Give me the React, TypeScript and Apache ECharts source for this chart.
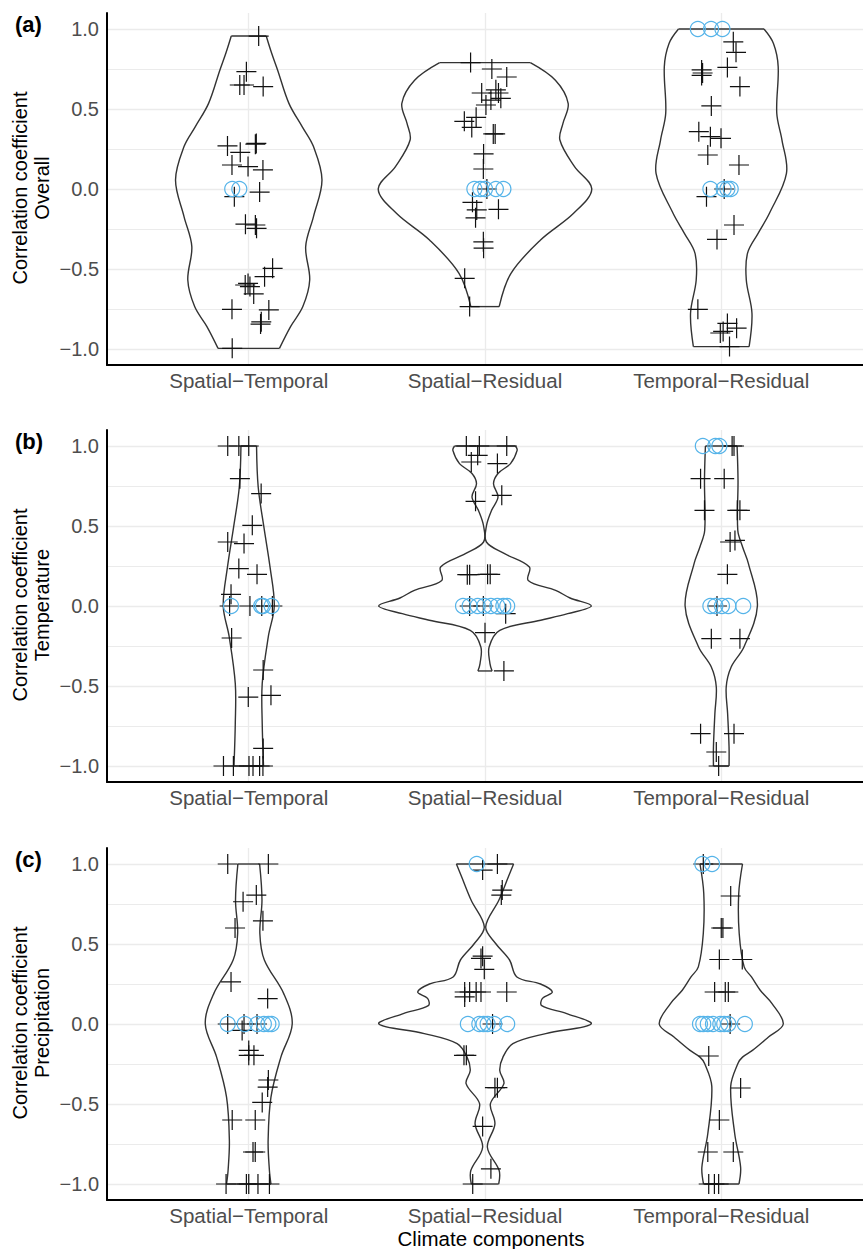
import React, { useEffect, useRef } from "react";
import * as echarts from "echarts";

// ---------- data ----------
const categories = ["Spatial\u2212Temporal", "Spatial\u2212Residual", "Temporal\u2212Residual"];
const yTicks = [-1, -0.5, 0, 0.5, 1];
const gridMajor = [-1, -0.5, 0, 0.5, 1];
const gridMinor = [-0.75, -0.25, 0.25, 0.75];
const panelTags = ["(a)", "(b)", "(c)"];
const panelNames = ["Overall", "Temperature", "Precipitation"];
const yTitle = "Correlation coefficient";
const xTitle = "Climate components";

// violin outlines: [correlation value, half width in category units]
const violinA_ST = [[0.956,0.074],[0.848,0.097],[0.744,0.122],[0.535,0.170],[0.39,0.226],[0.265,0.274],[0.056,0.310],[-0.173,0.274],[-0.36,0.241],[-0.569,0.258],[-0.735,0.229],[-0.86,0.177],[-0.996,0.130]];
const violinA_SR = [[0.79,0.192],[0.68,0.298],[0.535,0.352],[0.41,0.33],[0.306,0.317],[0.14,0.379],[0,0.452],[-0.152,0.375],[-0.319,0.235],[-0.527,0.110],[-0.735,0.060]];
const violinA_TR = [[1.0,0.181],[0.91,0.221],[0.765,0.241],[0.473,0.235],[0.306,0.257],[0.098,0.276],[-0.152,0.204],[-0.277,0.156],[-0.402,0.111],[-0.569,0.106],[-0.777,0.130],[-0.985,0.118]];
const violinB_ST = [[1.0,0.033],[0.744,0.040],[0.494,0.064],[0.244,0.090],[0,0.108],[-0.19,0.083],[-0.485,0.057],[-0.735,0.057],[-1.0,0.0625]];
const violinB_SR = [[1.0,0.129],[0.973,0.136],[0.89,0.108],[0.83,0.056],[0.765,0.036],[0.681,0.055],[0.598,0.028],[0.5,0.006],[0.4,0.006],[0.327,0.083],[0.244,0.188],[0.16,0.183],[0.098,0.299],[0.05,0.36],[0,0.450],[-0.048,0.35],[-0.089,0.236],[-0.152,0.0625],[-0.256,0.0175],[-0.36,0.021],[-0.406,0.030]];
const violinB_TR = [[1.0,0.067],[0.785,0.071],[0.473,0.070],[0.37,0.09],[0.265,0.115],[0,0.153],[-0.256,0.096],[-0.381,0.042],[-0.506,0.021],[-0.673,0.027],[-0.88,0.033],[-1.0,0.033]];
const violinC_ST = [[1.0,0.046],[0.775,0.056],[0.566,0.047],[0.4,0.066],[0.19,0.148],[0,0.184],[-0.207,0.136],[-0.457,0.094],[-0.728,0.082],[-0.916,0.0875],[-1.0,0.094]];
const violinC_SR = [[1.0,0.121],[0.92,0.099],[0.775,0.059],[0.607,0.003],[0.503,0.045],[0.4,0.104],[0.294,0.135],[0.25,0.235],[0.2,0.285],[0.16,0.243],[0.115,0.24],[0.065,0.346],[0,0.449],[-0.06,0.257],[-0.123,0.118],[-0.207,0.076],[-0.29,0.0625],[-0.373,0.080],[-0.498,0.023],[-0.624,0.042],[-0.77,0.010],[-0.916,0.060],[-1.0,0.058]];
const violinC_TR = [[1.0,0.090],[0.816,0.074],[0.566,0.076],[0.357,0.097],[0.294,0.128],[0.211,0.165],[0.128,0.215],[0,0.2625],[-0.081,0.2],[-0.165,0.132],[-0.207,0.090],[-0.248,0.07],[-0.39,0.04],[-0.686,0.057],[-0.895,0.082],[-1.0,0.075]];

// jittered points: [jitter offset in category units, correlation value]
const plusA_ST = [[0.042,0.956],[-0.010,0.733],[-0.038,0.65],[-0.020,0.65],[0.061,0.64],[-0.090,0.269],[-0.036,0.229],[0.028,0.28],[0.032,0.285],[-0.071,0.15],[-0.003,0.14],[0.060,0.119],[-0.061,-0.048],[0.046,-0.019],[-0.014,-0.22],[0.028,-0.225],[0.033,-0.246],[0.101,-0.496],[0.067,-0.548],[-0.003,-0.59],[0.005,-0.61],[-0.015,-0.6],[0.021,-0.656],[-0.071,-0.752],[0.085,-0.756],[0.050,-0.844],[0.053,-0.83],[-0.070,-0.996]];
const circA_ST = [[-0.070,0],[-0.040,0]];
const plusA_SR = [[-0.061,0.79],[0.029,0.75],[0.092,0.70],[-0.014,0.60],[0.057,0.60],[0.067,0.567],[0.025,0.556],[0.004,0.525],[0.046,0.62],[-0.0875,0.423],[-0.056,0.385],[-0.0375,0.448],[0.035,0.344],[0.043,0.344],[-0.006,0.219],[-0.007,0.125],[0.008,0],[-0.053,-0.083],[-0.035,-0.131],[0.057,-0.127],[-0.040,-0.18],[-0.007,-0.33],[-0.006,-0.37],[-0.086,-0.558],[-0.065,-0.735]];
const circA_SR = [[-0.045,0],[-0.020,0],[0,0],[0.046,0],[0.078,0]];
const plusA_TR = [[0.051,0.92],[0.0625,0.854],[0.026,0.76],[-0.083,0.744],[-0.083,0.71],[-0.079,0.725],[0.079,0.64],[-0.042,0.519],[-0.095,0.358],[-0.046,0.327],[-0.001,0.317],[-0.057,0.2125],[0.075,0.15],[0.0125,0],[-0.0625,-0.048],[0.054,-0.225],[-0.018,-0.315],[-0.099,-0.752],[0.026,-0.84],[0.065,-0.87],[-0.004,-0.90],[0.008,-0.89],[0.035,-0.985]];
const circA_TR = [[-0.099,1],[-0.043,1],[0.005,1],[-0.046,0],[0.010,0],[0.026,0],[0.040,0]];

const plusB_ST = [[-0.089,1],[-0.042,1],[0,1],[-0.0375,0.796],[0.0525,0.7025],[0.015,0.504],[-0.089,0.4],[-0.020,0.39],[-0.042,0.234],[0.035,0.198],[-0.075,0.073],[0.005,0],[-0.081,0],[0.055,0],[0.1,0],[-0.0725,-0.2],[0.061,-0.4],[-0.002,-0.569],[0.094,-0.558],[0.061,-0.89],[-0.107,-1],[-0.065,-1],[0.001,-1],[0.018,-1],[0.046,-1],[0.06,-1]];
const circB_ST = [[-0.075,0],[0.0525,0],[0.06,0],[0.097,0]];
const plusB_SR = [[-0.079,1],[-0.024,1],[0.092,1],[-0.031,0.942],[-0.058,0.9],[0.0525,0.89],[-0.040,0.654],[0.071,0.692],[-0.065,0.196],[-0.075,0.196],[0.011,0.198],[0.022,0.198],[-0.065,0],[-0.007,0],[0.0875,-0.048],[0,-0.167],[0.080,-0.406]];
const circB_SR = [[-0.093,0],[-0.065,0],[-0.031,0],[-0.003,0],[0.025,0],[0.0525,0],[0.0775,0],[0.094,0]];
const plusB_TR = [[0.054,1],[0.046,1],[-0.0875,0.796],[0.0125,0.796],[-0.071,0.598],[0.068,0.598],[0.079,0.598],[0.0375,0.4],[0.058,0.41],[0.026,0.198],[-0.018,0],[-0.042,-0.204],[0.079,-0.204],[-0.0875,-0.798],[0.054,-0.798],[-0.021,-0.9125],[-0.011,-1]];
const circB_TR = [[-0.078,1],[-0.025,1],[-0.008,1],[-0.046,0],[-0.025,0],[0.003,0],[0.030,0],[0.093,0]];

const plusC_ST = [[-0.089,1],[0.083,1],[0.032,0.806],[-0.024,0.764],[0.060,0.645],[-0.058,0.6],[-0.075,0.263],[0.080,0.159],[-0.089,0],[-0.020,0],[0.035,0],[-0.028,-0.04],[0,-0.165],[0.022,-0.196],[0,-0.196],[0.083,-0.35],[0.080,-0.394],[0.057,-0.49],[-0.070,-0.6],[0.0275,-0.6],[0.018,-0.8],[0.0275,-0.8],[-0.096,-1],[-0.010,-1],[0,-1],[0.039,-1],[0.0875,-1]];
const circC_ST = [[-0.089,0],[-0.017,0],[0.036,0],[0.064,0],[0.083,0],[0.097,0]];
const plusC_SR = [[0.0525,1],[-0.010,0.962],[0.073,0.837],[0.069,0.806],[-0.010,0.424],[-0.017,0.41],[-0.003,0.342],[-0.086,0.2],[-0.065,0.2],[-0.0375,0.2],[-0.017,0.2],[0.092,0.2],[-0.086,0.169],[0.032,0],[-0.089,-0.196],[-0.079,-0.196],[0.0525,-0.398],[0.042,-0.398],[-0.010,-0.64],[0.025,-0.905],[-0.052,-1]];
const circC_SR = [[-0.035,1],[-0.0725,0],[-0.024,0],[-0.006,0],[0.011,0],[0.039,0],[0.094,0]];
const plusC_TR = [[-0.076,1],[0.040,0.8],[0.007,0.6],[0,0.6],[-0.008,0.403],[0.089,0.403],[-0.028,0.2],[0.017,0.2],[0.030,0.2],[0.0375,0],[-0.053,-0.2],[0.082,-0.4],[-0.008,-0.6],[-0.057,-0.8],[0.051,-0.8],[-0.053,-1],[-0.029,-1],[-0.011,-1]];
const circC_TR = [[-0.080,1],[-0.039,1],[-0.090,0],[-0.076,0],[-0.057,0],[-0.035,0],[-0.004,0],[0.0125,0],[0.030,0],[0.100,0]];

const violins = [
  [violinA_ST, violinA_SR, violinA_TR],
  [violinB_ST, violinB_SR, violinB_TR],
  [violinC_ST, violinC_SR, violinC_TR],
];
const pluses = [
  [plusA_ST, plusA_SR, plusA_TR],
  [plusB_ST, plusB_SR, plusB_TR],
  [plusC_ST, plusC_SR, plusC_TR],
];
const circles = [
  [circA_ST, circA_SR, circA_TR],
  [circB_ST, circB_SR, circB_TR],
  [circC_ST, circC_SR, circC_TR],
];

// ---------- layout / style ----------
const FONT = "'Liberation Sans', Arial, Helvetica, sans-serif";
const gridTops = [13, 430, 848];
const GRID_H = 352;
const GRID_LEFT = 107;
const GRID_W = 768;
const INK = "#333333";
const BLUE = "#56B4E9";
const GRIDC = "#ebebeb";
const PLUS_PATH = "path://M0,10 L20,10 M10,0 L10,20";

function fmtY(v: number) {
  return (v < 0 ? "\u2212" : "") + Math.abs(v).toFixed(1);
}

function buildOption() {
  const grid: any[] = [];
  const xAxis: any[] = [];
  const yAxis: any[] = [];
  const series: any[] = [];
  const graphic: any[] = [];

  for (let p = 0; p < 3; p++) {
    grid.push({ left: GRID_LEFT, top: gridTops[p], width: GRID_W, height: GRID_H, containLabel: false });
    xAxis.push({
      type: "value",
      gridIndex: p,
      min: 0.4,
      max: 3.6,
      z: 5,
      axisLine: { show: true, onZero: false, lineStyle: { color: "#000", width: 2 } },
      axisTick: { show: false },
      splitLine: { show: false },
      axisLabel: {
        customValues: [1, 2, 3],
        formatter: (v: number) => categories[Math.round(v) - 1],
        color: "#4d4d4d",
        fontSize: 20.5,
        fontFamily: FONT,
        margin: 5,
      },
    });
    yAxis.push({
      type: "value",
      gridIndex: p,
      min: -1.1,
      max: 1.1,
      z: 5,
      axisLine: { show: true, onZero: false, lineStyle: { color: "#000", width: 2 } },
      axisTick: { show: false },
      splitLine: { show: false },
      axisLabel: {
        customValues: yTicks,
        formatter: (v: number) => fmtY(v),
        color: "#4d4d4d",
        fontSize: 20,
        fontFamily: FONT,
        margin: 8,
      },
    });

    // grid lines
    const ml: any[] = [];
    gridMajor.forEach((v) => ml.push({ yAxis: v, lineStyle: { color: GRIDC, width: 1.3 } }));
    gridMinor.forEach((v) => ml.push({ yAxis: v, lineStyle: { color: GRIDC, width: 1.1 } }));
    [1, 2, 3].forEach((v) => ml.push({ xAxis: v, lineStyle: { color: GRIDC, width: 1.3 } }));
    series.push({
      type: "scatter",
      xAxisIndex: p,
      yAxisIndex: p,
      data: [[1, 0]],
      symbolSize: 0,
      silent: true,
      z: 1,
      markLine: {
        silent: true,
        z: 1,
        symbol: ["none", "none"],
        label: { show: false },
        lineStyle: { type: "solid", color: GRIDC, width: 1.3 },
        data: ml,
        animation: false,
      },
    });

    for (let c = 0; c < 3; c++) {
      const prof = violins[p][c];
      const cx = c + 1;
      series.push({
        type: "custom",
        xAxisIndex: p,
        yAxisIndex: p,
        silent: true,
        z: 3,
        data: [[cx, 0]],
        renderItem: (params: any, api: any) => {
          const right = prof.map(([v, w]) => api.coord([cx + w, v]));
          const left = prof.map(([v, w]) => api.coord([cx - w, v]));
          const st = { stroke: INK, lineWidth: 1.4, fill: "none" };
          const n = prof.length - 1;
          return {
            type: "group",
            children: [
              { type: "polyline", shape: { points: right, smooth: 0.35 }, style: st },
              { type: "polyline", shape: { points: left, smooth: 0.35 }, style: st },
              { type: "line", shape: { x1: left[0][0], y1: left[0][1], x2: right[0][0], y2: right[0][1] }, style: st },
              { type: "line", shape: { x1: left[n][0], y1: left[n][1], x2: right[n][0], y2: right[n][1] }, style: st },
            ],
          };
        },
      });
      series.push({
        type: "scatter",
        xAxisIndex: p,
        yAxisIndex: p,
        silent: true,
        z: 4,
        symbol: PLUS_PATH,
        symbolSize: 20,
        itemStyle: { color: "none", borderColor: "#111", borderWidth: 1.2, opacity: 1 },
        data: pluses[p][c].map(([o, v]) => [cx + o, v]),
      });
      series.push({
        type: "scatter",
        xAxisIndex: p,
        yAxisIndex: p,
        silent: true,
        z: 5,
        symbol: "circle",
        symbolSize: 15,
        itemStyle: { color: "none", borderColor: BLUE, borderWidth: 1.2, opacity: 1 },
        data: circles[p][c].map(([o, v]) => [cx + o, v]),
      });
    }

    // panel tag
    graphic.push({
      type: "text",
      left: 15,
      top: gridTops[p],
      style: { text: panelTags[p], font: `bold 22px ${FONT}`, fill: "#000" },
    });
    // y title (two lines, rotated)
    graphic.push({
      type: "text",
      x: 31,
      y: gridTops[p] + GRID_H / 2 - 1,
      rotation: Math.PI / 2,
      style: {
        text: yTitle + "\n" + panelNames[p],
        font: `20px ${FONT}`,
        fill: "#000",
        align: "center",
        verticalAlign: "middle",
        lineHeight: 22,
      },
    });
  }

  graphic.push({
    type: "text",
    x: 491,
    y: 1238,
    style: { text: xTitle, font: `20.5px ${FONT}`, fill: "#000", align: "center", verticalAlign: "middle" },
  });

  return {
    animation: false,
    backgroundColor: "#ffffff",
    textStyle: { fontFamily: FONT },
    grid,
    xAxis,
    yAxis,
    series,
    graphic,
  };
}

export default function App() {
  const ref = useRef<HTMLDivElement>(null);
  useEffect(() => {
    if (!ref.current) return;
    const chart = echarts.init(ref.current, null, { renderer: "svg" });
    chart.setOption(buildOption() as any);
    return () => chart.dispose();
  }, []);
  return (
    <div
      ref={ref}
      style={{ position: "absolute", left: 0, top: 0, width: 863, height: 1249, overflow: "hidden" }}
    />
  );
}
